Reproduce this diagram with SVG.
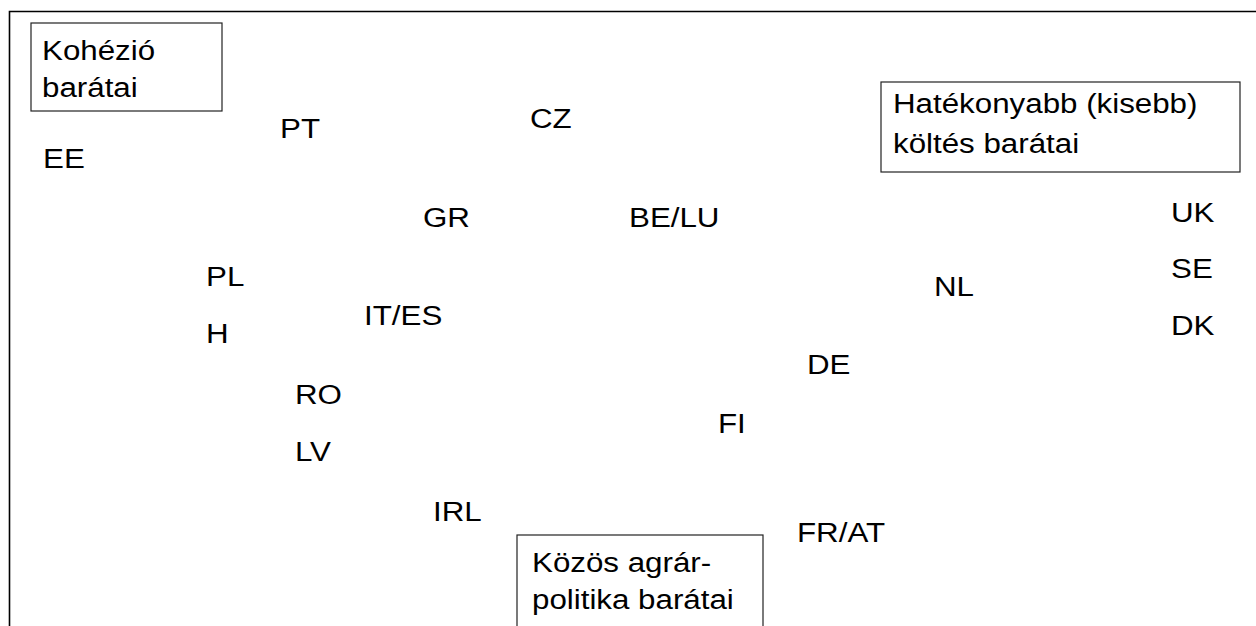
<svg xmlns="http://www.w3.org/2000/svg" width="1256" height="626" viewBox="0 0 1256 626">
  <style>
    .frame { fill: none; stroke: #000; stroke-width: 1.6; }
    .box { fill: #fff; stroke: #222; stroke-width: 1.2; }
    .lbl { font-family: "Liberation Sans", Arial, sans-serif; font-size: 27px; fill: #000; }
  </style>
  <rect width="1256" height="626" fill="#fff"/>

  <!-- open frame: top and left edges only -->
  <path class="frame" d="M1256 11.5 H9.5 V626"/>

  <!-- group boxes -->
  <g id="box-kohezio">
    <rect class="box" x="31" y="23" width="191" height="88"/>
    <text class="lbl" transform="translate(42 60) scale(1.16 1)"><tspan x="0" y="0">Kohézió</tspan><tspan x="0" y="37">barátai</tspan></text>
  </g>
  <g id="box-hatekony">
    <rect class="box" x="881" y="82" width="359" height="90"/>
    <text class="lbl" transform="translate(893 113) scale(1.16 1)"><tspan x="0" y="0">Hatékonyabb (kisebb)</tspan><tspan x="0" y="40">költés barátai</tspan></text>
  </g>
  <g id="box-kap">
    <rect class="box" x="517" y="535" width="246" height="105"/>
    <text class="lbl" transform="translate(532 572) scale(1.16 1)"><tspan x="0" y="0">Közös agrár-</tspan><tspan x="0" y="37.5">politika barátai</tspan></text>
  </g>

  <!-- member states -->
  <g id="n-EE"><text class="lbl" transform="translate(43 168) scale(1.16 1)">EE</text></g>
  <g id="n-PT"><text class="lbl" transform="translate(280 138) scale(1.16 1)">PT</text></g>
  <g id="n-CZ"><text class="lbl" transform="translate(530 128) scale(1.16 1)">CZ</text></g>
  <g id="n-GR"><text class="lbl" transform="translate(423 227) scale(1.16 1)">GR</text></g>
  <g id="n-BELU"><text class="lbl" transform="translate(629 227) scale(1.16 1)">BE/LU</text></g>
  <g id="n-UK"><text class="lbl" transform="translate(1171 222) scale(1.16 1)">UK</text></g>
  <g id="n-SE"><text class="lbl" transform="translate(1171 278) scale(1.16 1)">SE</text></g>
  <g id="n-DK"><text class="lbl" transform="translate(1171 335) scale(1.16 1)">DK</text></g>
  <g id="n-NL"><text class="lbl" transform="translate(934 296) scale(1.16 1)">NL</text></g>
  <g id="n-PL"><text class="lbl" transform="translate(206 286) scale(1.16 1)">PL</text></g>
  <g id="n-H"><text class="lbl" transform="translate(206 343) scale(1.16 1)">H</text></g>
  <g id="n-ITES"><text class="lbl" transform="translate(364 325) scale(1.16 1)">IT/ES</text></g>
  <g id="n-DE"><text class="lbl" transform="translate(807 374) scale(1.16 1)">DE</text></g>
  <g id="n-RO"><text class="lbl" transform="translate(295 404) scale(1.16 1)">RO</text></g>
  <g id="n-LV"><text class="lbl" transform="translate(295 461) scale(1.16 1)">LV</text></g>
  <g id="n-FI"><text class="lbl" transform="translate(718 433) scale(1.16 1)">FI</text></g>
  <g id="n-IRL"><text class="lbl" transform="translate(433 521) scale(1.16 1)">IRL</text></g>
  <g id="n-FRAT"><text class="lbl" transform="translate(797 542) scale(1.16 1)">FR/AT</text></g>
</svg>
